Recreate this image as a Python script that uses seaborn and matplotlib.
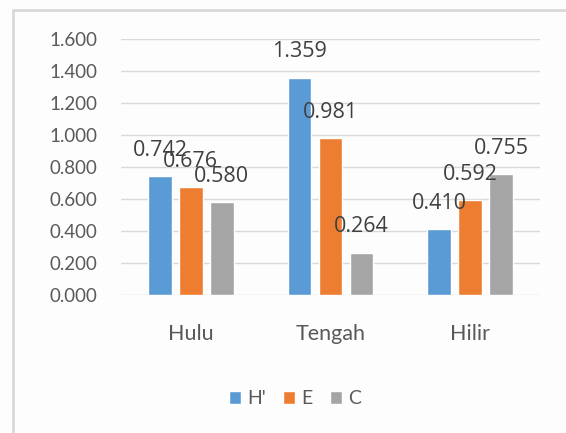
import matplotlib
matplotlib.use("Agg")
import matplotlib.pyplot as plt
import seaborn as sns
import pandas as pd
from matplotlib.lines import Line2D
from matplotlib.ticker import FuncFormatter

categories = ["Hulu", "Tengah", "Hilir"]
series = ["H'", "E", "C"]
h_values = [0.742, 1.359, 0.410]
e_values = [0.676, 0.981, 0.592]
c_values = [0.580, 0.264, 0.755]
colors = ["#5B9BD5", "#ED7D31", "#A5A5A5"]
y_ticks = [0.0, 0.2, 0.4, 0.6, 0.8, 1.0, 1.2, 1.4, 1.6]

rows = []
for s, vals in zip(series, [h_values, e_values, c_values]):
    for c, v in zip(categories, vals):
        rows.append({"cat": c, "series": s, "val": v})
df = pd.DataFrame(rows)

sns.set_theme(style="white")
plt.rcParams["font.family"] = ["Lato", "DejaVu Sans"]

W, H = 566, 433
fig = plt.figure(figsize=(W / 100, H / 100), dpi=100, facecolor="#FDFDFD")
ax = fig.add_axes([121 / W, 1 - 295 / H, 419 / W, (295 - 39) / H])
ax.set_facecolor("#FDFDFD")

sns.barplot(data=df, x="cat", y="val", hue="series", palette=colors,
            order=categories, hue_order=series, width=0.666, gap=0.23,
            errorbar=None, ax=ax, saturation=1)

for cont in ax.containers:
    ax.bar_label(cont, fmt="%.3f", padding=11, fontsize=15.5, color="#404040",
                 family=["Open Sans", "DejaVu Sans"])

ax.set_ylim(0, 1.6)
ax.set_yticks(y_ticks)
ax.yaxis.set_major_formatter(FuncFormatter(lambda v, p: f"{v:.3f}"))
ax.grid(axis="y", color="#D9D9D9", linewidth=1)
ax.set_axisbelow(True)
for sp in ax.spines.values():
    sp.set_visible(False)
ax.tick_params(axis="y", length=0, pad=17, labelsize=13.5, labelcolor="#595959")
ax.tick_params(axis="x", length=0, pad=21, labelsize=15.5, labelcolor="#595959")
ax.set_xlabel("")
ax.set_ylabel("")

leg = ax.legend(loc="center", bbox_to_anchor=(295 / W, 1 - 399 / H),
                bbox_transform=fig.transFigure, ncol=3, frameon=False,
                fontsize=14, handlelength=0.62, handleheight=0.62,
                handletextpad=0.3, columnspacing=0.9)
for t in leg.get_texts():
    t.set_color("#595959")

fig.add_artist(Line2D([13 / W, 1], [1 - 10 / H, 1 - 10 / H], color="#D9D9D9", linewidth=2))
fig.add_artist(Line2D([13 / W, 13 / W], [0, 1 - 10 / H], color="#D9D9D9", linewidth=2))

fig.savefig("out.png", dpi=100, facecolor=fig.get_facecolor())
